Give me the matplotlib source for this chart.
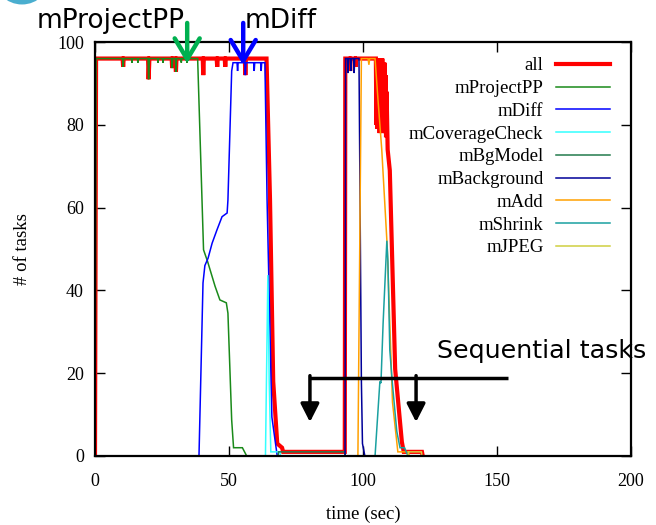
import matplotlib.pyplot as plt
from matplotlib.patches import Ellipse

# running tasks over time
all_t = [0, 0.4, 10.3, 10.5, 10.7, 19.8, 20.0, 20.3, 28.6, 28.8, 29.0, 30.0, 30.2, 30.4,
         40.2, 40.4, 40.6, 45.4, 45.6, 45.8, 48.4, 48.6, 48.8, 55.9, 56.1, 56.3, 64.0,
         65.3, 66.5, 68.0, 69.8, 70.2, 93.2, 93.4, 95.0, 95.2, 95.4, 97.0, 97.2, 97.4,
         104.8, 105.0, 105.2, 105.4, 105.6, 105.8, 106.0, 106.2, 106.4, 106.6, 106.8,
         107.0, 107.2, 107.4, 107.6, 107.8, 108.0, 108.2, 108.4, 108.6, 108.8,
         109.2, 110.0, 112.0, 114.5, 115.2, 122.0, 122.3]
all_n = [0, 96, 96, 94, 96, 96, 91, 96, 96, 93.7, 96, 96, 92.8, 96,
         96, 92, 96, 96, 94, 96, 96, 94, 96, 96, 92, 96, 96,
         62, 18, 3, 2, 1, 1, 96, 96, 93, 96, 96, 94, 96,
         96, 80, 96, 79, 96, 80, 96, 78, 96, 79, 96,
         78, 96, 80, 95, 79, 95, 78, 92, 77, 88,
         74, 69, 21, 3.4, 1, 1, 0]

pp_t = [0, 0.4, 10.3, 10.5, 10.7, 13.6, 13.8, 14.0, 15.8, 16.0, 16.2, 19.8, 20.0, 20.3,
        23.3, 23.5, 23.7, 25.2, 25.4, 25.6, 28.6, 28.8, 29.0, 30.0, 30.2, 30.4, 32.0,
        32.2, 32.4, 34.1, 34.3, 34.5, 38.3, 40.5, 42.0, 44.8, 46.6, 49.0, 49.6, 51.0,
        51.7, 55.0, 56.6]
pp_n = [0, 96, 96, 94, 96, 96, 95, 96, 96, 95, 96, 96, 91, 96,
        96, 95, 96, 96, 95, 96, 96, 93.7, 96, 96, 92.8, 96, 96,
        95, 96, 96, 95, 96, 96, 49.8, 47, 41, 37.7, 37, 34.5, 8.7,
        2, 2, 0]

diff_t = [38.8, 40.3, 41.0, 42.2, 43.7, 45.5, 47.4, 49.3, 49.6, 51.0, 51.5, 53.0, 53.2,
          53.4, 55.9, 56.1, 56.3, 59.2, 59.4, 59.6, 61.8, 62.0, 62.2, 63.4, 64.2, 66.0, 68.0]
diff_n = [0, 41.8, 46, 47.8, 51.4, 54.6, 57.8, 58.7, 61.8, 93, 95, 95, 93,
          95, 95, 92, 95, 95, 93, 95, 95, 93, 95, 95, 62, 9.4, 0]

cov_t = [63.6, 64.5, 65.0, 65.6, 69.0, 69.2]
cov_n = [0, 43.7, 18, 1, 1, 0]

bgm_t = [68.3, 68.5, 93.2, 93.4]
bgm_n = [0, 1, 1, 0]

bkg_t = [93.3, 93.5, 94.2, 94.4, 94.6, 95.3, 95.5, 95.7, 96.5, 96.7, 96.9, 98.5, 99.4, 99.8, 100.7]
bkg_n = [0, 96, 96, 92.5, 96, 96, 93, 96, 96, 92.5, 96, 96, 18, 3, 0]

add_t = [98.1, 99.4, 101.9, 102.2, 102.5, 104.5, 105.6, 107.0, 109.0, 111.0, 113.0, 117.0, 117.2]
add_n = [0, 96, 96, 94.5, 96, 96, 86, 74, 51, 13, 1, 1, 0]

shr_t = [104.5, 106.3, 106.7, 107.5, 108.9, 109.3, 110.0, 110.9, 112.6, 113.8, 115.5, 116.8]
shr_n = [0, 18, 17.6, 32, 52, 47, 25.6, 18, 6, 2, 2, 0]

jpg_t = [116.8, 117.0, 121.8, 122.0]
jpg_n = [0, 1, 1, 0]

names = ["all", "mProjectPP", "mDiff", "mCoverageCheck", "mBgModel",
         "mBackground", "mAdd", "mShrink", "mJPEG"]
times = [all_t, pp_t, diff_t, cov_t, bgm_t, bkg_t, add_t, shr_t, jpg_t]
counts = [all_n, pp_n, diff_n, cov_n, bgm_n, bkg_n, add_n, shr_n, jpg_n]

colors = ["#ff0000", "#1a8a1a", "#0000ff", "#33ffff", "#237a4d",
          "#000099", "#ffa000", "#1aa0a0", "#d0d040"]


def main():
    plt.rcParams['font.family'] = ['Liberation Serif', 'DejaVu Serif']
    fig = plt.figure(figsize=(6.56, 5.25), dpi=100)
    ax = fig.add_axes([95 / 656, 69 / 525, 536 / 656, 414 / 525])

    for i, name in enumerate(names):
        lw = 3.0 if name == "all" else 1.1
        ax.plot(times[i], counts[i], color=colors[i], lw=lw, label=name,
                solid_joinstyle='miter')

    ax.set_xlim(0, 200)
    ax.set_ylim(0, 100)
    ax.set_xticks([0, 50, 100, 150, 200])
    ax.set_yticks([0, 20, 40, 60, 80, 100])
    ax.tick_params(direction='in', length=7, width=1, labelsize=13,
                   top=True, right=True)
    ax.tick_params(axis='x', pad=12)
    ax.tick_params(axis='y', pad=8)
    for s in ax.spines.values():
        s.set_linewidth(1.6)
    ax.set_xlabel("time (sec)", fontsize=13.5)
    ax.set_ylabel("# of tasks", fontsize=13.5)
    ax.xaxis.set_label_coords(0.5, -0.12)
    ax.yaxis.set_label_coords(-0.12, 0.5)

    ax.legend(loc='upper right', bbox_to_anchor=(0.961, 0.963), frameon=False,
              markerfirst=False, fontsize=13.5, handlelength=2.9,
              handletextpad=0.65, labelspacing=0.3, borderpad=0, borderaxespad=0)

    # callouts
    sans = ['DejaVu Sans']
    fig.text(37 / 656, 1 - 28 / 525, "mProjectPP", fontsize=19, family=sans,
             va='baseline')
    fig.text(245 / 656, 1 - 28 / 525, "mDiff", fontsize=19, family=sans,
             va='baseline')
    fig.text(437 / 656, 1 - 358 / 525, "Sequential tasks", fontsize=18.3,
             family=sans, va='baseline')

    head = dict(arrowstyle='->,head_width=0.45,head_length=0.75', lw=3.2,
                mutation_scale=20, shrinkA=0, shrinkB=0)
    ax.annotate("", xy=(34.4, 94.8), xytext=(34.4, 104.6), annotation_clip=False,
                arrowprops=dict(color='#00b050', **head))
    ax.annotate("", xy=(55.3, 94.4), xytext=(55.3, 104.6), annotation_clip=False,
                arrowprops=dict(color='#0000ff', **head))

    ax.plot([80.2, 154], [18.8, 18.8], color='black', lw=2.5, solid_capstyle='butt')
    fill = dict(arrowstyle='-|>,head_width=0.28,head_length=0.55', lw=2.5,
                mutation_scale=20, shrinkA=0, shrinkB=0, color='black')
    for x in [80.2, 119.8]:
        ax.annotate("", xy=(x, 8.2), xytext=(x, 19.4), arrowprops=fill)

    fig.add_artist(Ellipse((22 / 656, 1 + 24 / 525), 50 / 656, 50 / 525,
                           transform=fig.transFigure, facecolor='white',
                           edgecolor='#4aaecf', lw=5, clip_on=False))

    fig.savefig("out.png", dpi=100)


if __name__ == "__main__":
    main()
